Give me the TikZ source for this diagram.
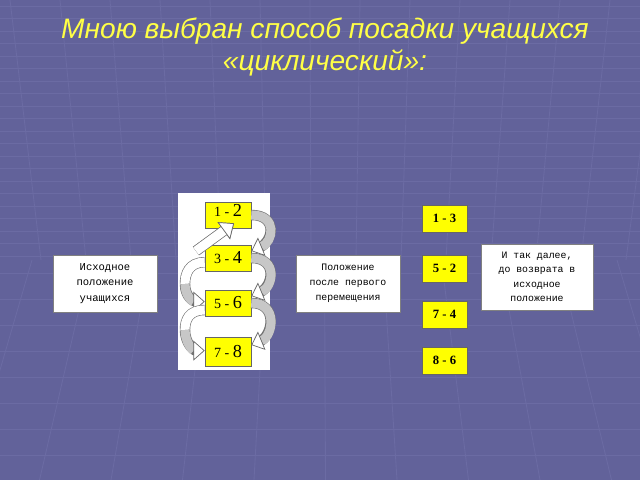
\documentclass[tikz,border=0pt]{standalone}
\usepackage{fontspec}
\setmainfont{Liberation Serif}
\setsansfont{Liberation Sans}
\setmonofont{Liberation Mono}
\usetikzlibrary{arrows.meta,calc,positioning}
\definecolor{slidebg}{RGB}{98,98,154}
\definecolor{gridline}{RGB}{107,107,163}
\definecolor{pairyellow}{RGB}{255,255,0}
\definecolor{titleyellow}{RGB}{255,255,70}

\tikzset{
  headline/.style={font=\sffamily\itshape\fontsize{20}{23}\selectfont, text=titleyellow, align=center},
  notebox/.style={draw=black!50, fill=white, align=center, inner sep=2pt,
    font=\ttfamily\fontsize{7.5}{10.8}\selectfont},
  pairbox/.style={draw=black!60, fill=pairyellow, minimum width=1.15cm, minimum height=0.65cm,
    inner sep=0pt, font=\rmfamily\fontsize{10}{12}\selectfont},
  swapbox/.style={draw=black!60, fill=pairyellow, minimum width=1.125cm, minimum height=0.675cm,
    inner sep=0pt, font=\rmfamily\bfseries\fontsize{9}{11}\selectfont},
  greyband/.style={line width=6.5pt, draw=black!22,
    preaction={draw=black!55, line width=7.4pt, -, shorten >=6pt},
    -{Triangle[width=14pt,length=8pt,fill=white,color=black!60,line width=0.5pt]}},
  whiteband/.style={line width=6.5pt, draw=white,
    preaction={draw=black!55, line width=7.4pt}},
  whitearrow/.style={whiteband, preaction={draw=black!55, line width=7.4pt, -, shorten >=6pt},
    -{Triangle[width=15pt,length=9pt,fill=white,color=black!60,line width=0.5pt]}}
}

\begin{document}
\begin{tikzpicture}[x=0.025cm, y=-0.025cm]
  % slide background
  \fill[slidebg] (0,0) rectangle (640,480);
  \useasboundingbox (0,0) rectangle (640,480);
  \begin{scope}[draw=gridline, line width=0.6pt]
    \foreach \y in {6,18.5,...,260}
      \draw (0,\y) -- (640,\y);
    \foreach \y in {273,299,...,480}
      \draw (0,\y) -- (640,\y);
    \foreach \x in {-40,10,...,680}
      \draw (\x,0) -- (320+\x*0.9-288,260);
    \foreach \x in {-260,-195,...,900}
      \draw (320+\x*0.9-288,260) -- (\x*1.1-32,480);
  \end{scope}

  % title
  \node[headline] (title) at (325,47) {Мною выбран способ посадки учащихся\\«циклический»:};

  % text boxes
  \node[notebox, minimum width=2.6cm, minimum height=1.425cm] (start) at (105,283.5)
    {Исходное\\положение\\учащихся};
  \node[notebox, minimum width=2.6cm, minimum height=1.425cm, font=\ttfamily\fontsize{7}{10.6}\selectfont] (after) at (348,283.5)
    {Положение\\после первого\\перемещения};
  \node[notebox, minimum width=2.8cm, minimum height=1.65cm, font=\ttfamily\fontsize{7}{10.3}\selectfont] (final) at (537,277)
    {И так далее,\\до возврата в\\исходное\\положение};

  % cycle panel
  \fill[white] (178,193) rectangle (270,370);
  \node[pairbox, text depth=6pt] (p12) at (228,215) {1 - {\fontsize{13}{13}\selectfont 2}};
  \node[pairbox] (p34) at (228,258) {3 - {\fontsize{13}{13}\selectfont 4}};
  \node[pairbox] (p56) at (228,303) {5 - {\fontsize{13}{13}\selectfont 6}};
  \node[pairbox, minimum height=0.72cm] (p78) at (228,352) {7 - {\fontsize{13}{13}\selectfont 8}};

  % right loops
  \draw[greyband] (p12.east) .. controls +(27,0) and +(22,-9) .. ([yshift=5pt]p34.east);
  \draw[greyband] (p34.east) .. controls +(27,0) and +(22,-9) .. ([yshift=5pt]p56.east);
  \draw[greyband] (p56.east) .. controls +(27,0) and +(22,-9) .. ([yshift=5pt]p78.east);

  % left loops
  \coordinate (bend1) at (185,284);
  \coordinate (bend2) at (185,330);
  \draw[whiteband] ([yshift=-3pt]p34.west) .. controls +(-16,0) and +(0,-10) .. (bend1);
  \draw[greyband] (bend1) .. controls +(0,12) and +(-12,0) .. ([yshift=1pt]p56.west);
  \draw[whiteband] ([yshift=-5pt]p56.west) .. controls +(-16,0) and +(0,-10) .. (bend2);
  \draw[greyband] (bend2) .. controls +(0,12) and +(-12,0) .. ([yshift=1pt]p78.west);

  % way back up
  \coordinate (tail) at (196,251);
  \draw[whitearrow] (tail) -- ($(p12.south)+(6,-5)$);

  % swap column
  \node[swapbox] (s13) at (444.5,218.5) {1 - 3};
  \node[swapbox] (s52) at (444.5,268.5) {5 - 2};
  \node[swapbox] (s74) at (444.5,314.5) {7 - 4};
  \node[swapbox] (s86) at (444.5,360.5) {8 - 6};
\end{tikzpicture}
\end{document}
